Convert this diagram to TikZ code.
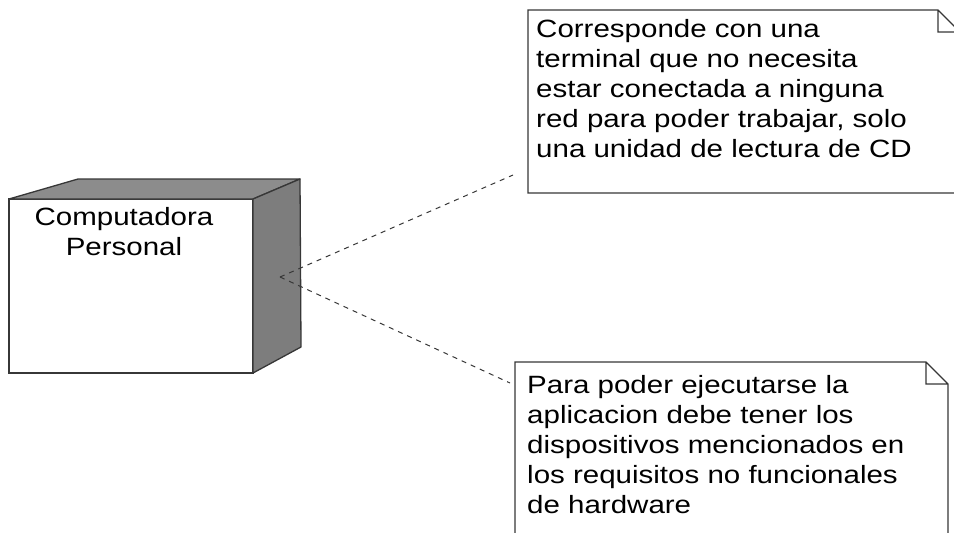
\documentclass[tikz,border=0pt]{standalone}
\usepackage{fontspec}
\setmainfont{Liberation Sans}[FakeStretch=1.18]
\usetikzlibrary{positioning}
\definecolor{edge}{RGB}{55,55,55}
\definecolor{topgray}{RGB}{140,140,140}
\definecolor{sidegray}{RGB}{125,125,125}

\begin{document}
\begin{tikzpicture}[x=1pt,y=-1pt,
  nodebox/.style={rectangle,draw=edge,fill=white,line width=1.3pt,minimum width=244pt,minimum height=174pt,inner sep=0,outer sep=0},
  face/.style={draw=edge,line width=1.3pt,line join=round},
  notebox/.style={rectangle,inner sep=0,outer sep=0,anchor=north west},
  noteline/.style={draw=edge,fill=white,line width=1.3pt},
  notetext/.style={align=left,inner sep=0,anchor=north west,font=\fontsize{25}{30}\selectfont},
  link/.style={draw=edge,dash pattern=on 5pt off 5pt,line width=1pt}]
  \useasboundingbox (0,0) rectangle (954,533);
  \clip (0,0) rectangle (954,533);

  % node
  \node[nodebox] (pc) at (131,286) {};
  \draw[face,fill=topgray] (pc.north west) -- ++(69,-20) -- ([shift={(47,-20)}]pc.north east) -- (pc.north east) -- cycle;
  \draw[face,fill=sidegray] (pc.north east) -- ++(47,-20) -- ([shift={(48,-26)}]pc.south east) -- (pc.south east) -- cycle;
  \node[notetext,anchor=north,align=center] (pcname) at ([shift={(-7,8)}]pc.north) {Computadora\\Personal};

  % notes
  \node[notebox,minimum width=432pt,minimum height=183pt] (cdnote) at (528,10) {};
  \node[notebox,minimum width=433pt,minimum height=190pt] (hwnote) at (515,362) {};
  \foreach \n in {cdnote,hwnote}
    \draw[noteline] (\n.north west) -- ([shift={(-22,0)}]\n.north east) -- ([shift={(0,22)}]\n.north east)
      -- (\n.south east) -- (\n.south west) -- cycle
      ([shift={(-22,0)}]\n.north east) |- ([shift={(0,22)}]\n.north east);

  \node[notetext] (cdtext) at (536,19) {Corresponde con una\\terminal que no necesita\\estar conectada a ninguna\\red para poder trabajar, solo\\una unidad de lectura de CD};
  \node[notetext] (hwtext) at (527,375) {Para poder ejecutarse la\\aplicacion debe tener los\\dispositivos mencionados en\\los requisitos no funcionales\\de hardware};

  % links
  \coordinate (port) at ([shift={(27,-9)}]pc.east);
  \draw[link] (port) -- ([shift={(-15,-18)}]cdnote.south west);
  \draw[link] (port) -- ([shift={(-5,21)}]hwnote.north west);
\end{tikzpicture}
\end{document}
